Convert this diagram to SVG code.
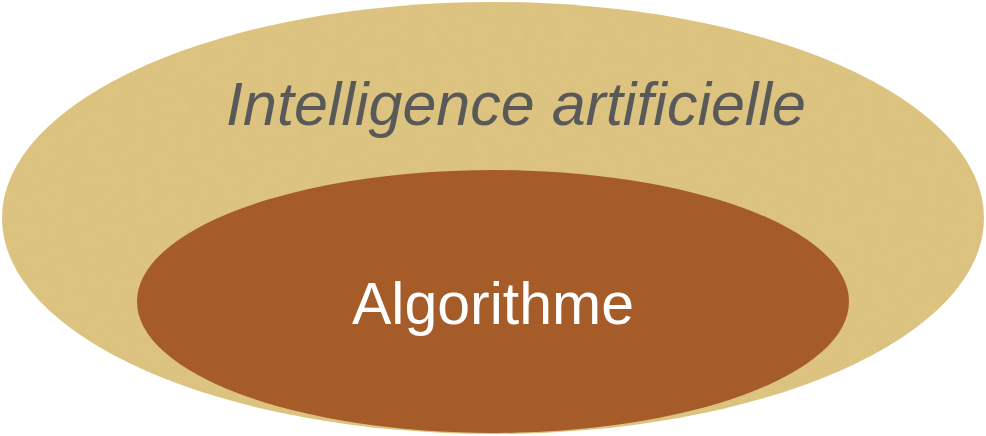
<svg xmlns="http://www.w3.org/2000/svg" width="986" height="436" viewBox="0 0 986 436">
  <defs>
    <!-- soft parchment grain for the outer set -->
    <filter id="grain" x="0" y="0" width="100%" height="100%">
      <feTurbulence type="fractalNoise" baseFrequency="0.08" numOctaves="3" seed="4" result="noise"/>
      <feColorMatrix in="noise" type="matrix" values="0 0 0 0 0.55  0 0 0 0 0.45  0 0 0 0 0.25  0 0 0 0.14 0" result="tint"/>
      <feComposite in="tint" in2="SourceGraphic" operator="in" result="masked"/>
      <feMerge>
        <feMergeNode in="SourceGraphic"/>
        <feMergeNode in="masked"/>
      </feMerge>
    </filter>
  </defs>
  <style>
    .label { font-family: "Liberation Sans", Arial, sans-serif; text-anchor: middle; }
    .outer-label { fill: #595959; font-style: italic; font-size: 61px; }
    .inner-label { fill: #ffffff; font-size: 59px; }
  </style>

  <g id="intelligence-artificielle">
    <ellipse cx="493" cy="218" rx="491" ry="216" fill="#dec47f" filter="url(#grain)"/>
    <text class="label outer-label" x="516" y="125">Intelligence artificielle</text>
  </g>

  <g id="algorithme">
    <ellipse cx="493" cy="301.5" rx="356" ry="131.5" fill="#a65c29"/>
    <text class="label inner-label" x="493" y="324">Algorithme</text>
  </g>

  <g id="connectors"/>
</svg>
